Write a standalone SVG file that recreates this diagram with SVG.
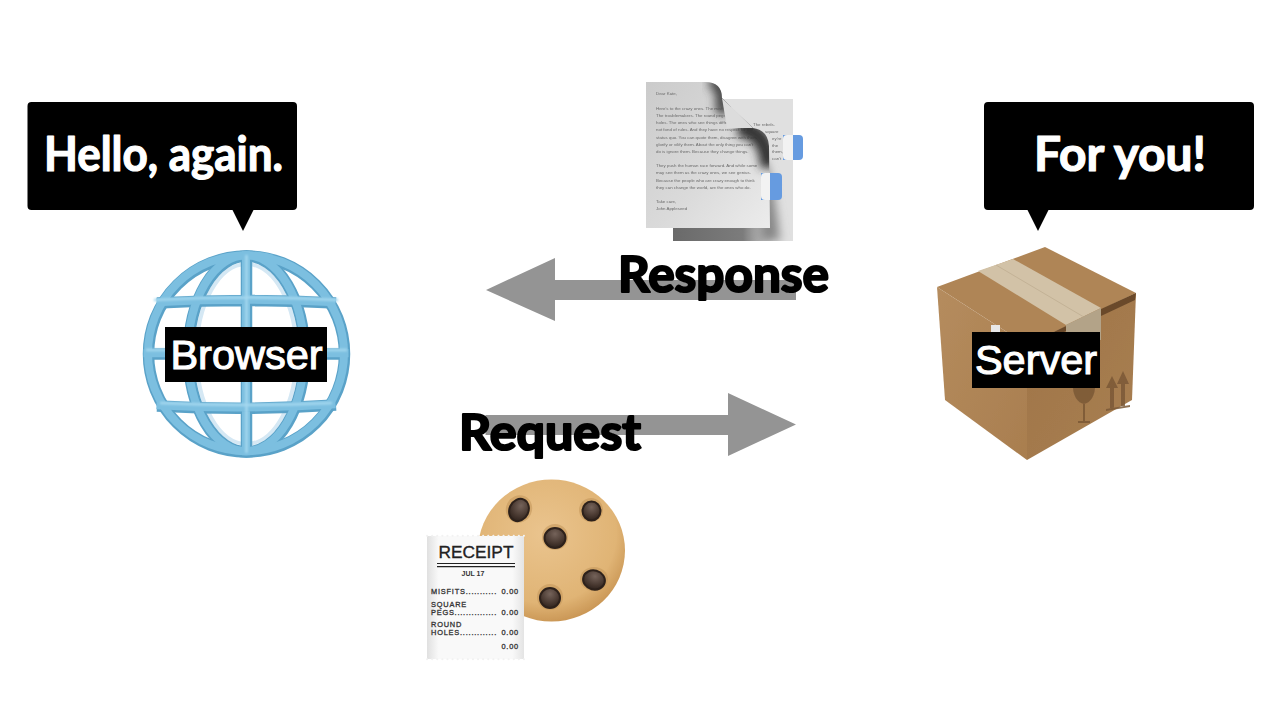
<svg xmlns="http://www.w3.org/2000/svg" width="1282" height="702" viewBox="0 0 1282 702">
<style>
.hand{font-family:"Lato","Noto Sans",sans-serif;font-weight:700;stroke-linejoin:round}
.say{font-size:47px;fill:#fff;stroke:#fff;stroke-width:1.200}
.tag{font-size:50px;fill:#000;stroke:#000;stroke-width:2.200}
.sans{font-family:"Liberation Sans",Arial,sans-serif}
.lbl{font-size:41.500px;fill:#fff;stroke:#fff;stroke-width:1.100;text-anchor:middle}
.doc{font-size:4.400px;fill:#6a6a6a}
.rc{font-size:7.400px;fill:#333;stroke:#333;stroke-width:.3;letter-spacing:.8px}
.b1{fill:none;stroke:#5aa2c8;stroke-width:11.500}
.b2{fill:none;stroke:#7cbfe0;stroke-width:8}
.b3{fill:none;stroke:#a5d8ef;stroke-width:2.500}
.chip{fill:url(#gc);stroke:#2d211b;stroke-width:2}
.hole{fill:#c4975c;opacity:.6}
.mark{fill:#7a5836;opacity:.85}
</style>
<defs>
<g id="wire">
<circle cx="246.500" cy="354" r="98"/>
<ellipse cx="246.500" cy="354" rx="58" ry="98"/>
<path d="M246.500 252V456M157 303Q246 298 336 303M144 354H349M157 406Q246 411 336 405"/>
</g>
<radialGradient id="gk" cx=".45" cy=".38" r=".68"><stop offset="0" stop-color="#eac48e"/><stop offset=".72" stop-color="#e0b475"/><stop offset="1" stop-color="#c28c4a"/></radialGradient>
<radialGradient id="gc" cx=".5" cy=".3" r=".8"><stop offset="0" stop-color="#75635a"/><stop offset=".6" stop-color="#46362e"/><stop offset="1" stop-color="#241a15"/></radialGradient>
<linearGradient id="gp" x1="0" y1="0" x2="1" y2="1"><stop offset="0" stop-color="#cbcbcb"/><stop offset=".55" stop-color="#dadada"/><stop offset="1" stop-color="#ececec"/></linearGradient>
<linearGradient id="gr" x1="0" y1="0" x2="1" y2="0"><stop offset="0" stop-color="#e0e0e0"/><stop offset=".12" stop-color="#f9f9f9"/><stop offset=".88" stop-color="#f9f9f9"/><stop offset="1" stop-color="#e4e4e4"/></linearGradient>
<linearGradient id="gl" x1="0" y1="0" x2="1" y2="1"><stop offset="0" stop-color="#b58c5e"/><stop offset="1" stop-color="#a97e4f"/></linearGradient>
<linearGradient id="gf" x1="0" y1="0" x2="1" y2="1"><stop offset="0" stop-color="#9f7447"/><stop offset="1" stop-color="#a87f52"/></linearGradient>
<linearGradient id="gs" x1="0" y1="0" x2="1" y2="0"><stop offset="0" stop-color="#6a6a6a"/><stop offset=".7" stop-color="#7c7c7c"/><stop offset="1" stop-color="#dddddd"/></linearGradient>
<filter id="s1" x="-60%" y="-60%" width="220%" height="220%"><feGaussianBlur stdDeviation="5"/></filter>
<filter id="s2" x="-10%" y="-10%" width="120%" height="120%"><feGaussianBlur stdDeviation=".45"/></filter>
<filter id="s3" x="-10%" y="-10%" width="120%" height="120%"><feGaussianBlur stdDeviation=".8"/></filter>
<clipPath id="pg"><path d="M646 82H705Q722 82 722 98L753 128Q768 130 769 146L770 228H646Z"/></clipPath>
<clipPath id="pb"><rect x="673" y="99" width="120" height="142"/></clipPath>
</defs>
<rect width="1282" height="702" fill="#fff"/>

<g id="connectors">
<path id="response-arrow" fill="#949494" d="M486 290L555 258V280H796V300H555V321Z"/>
<path id="request-arrow" fill="#949494" d="M485.500 415H728V393L796 424.500L728 456V435H485.500Z"/>
</g>

<g id="browser">
<ellipse cx="246.500" cy="354" rx="50" ry="90" fill="none" stroke="#d5e8f4" stroke-width="4" filter="url(#s2)"/>
<g filter="url(#s2)">
<use href="#wire" class="b1"/>
<use href="#wire" class="b2" transform="translate(-.5 -.8)"/>
</g>
<path d="M246.500 255V453M154 300Q246 295 338 300M146 350H347M160 403Q246 407 332 403" class="b3" filter="url(#s3)"/>
<rect x="165" y="327" width="162" height="55"/>
<text x="246.500" y="369" class="sans lbl">Browser</text>
</g>

<g id="server">
<g filter="url(#s2)">
<path d="M937 287L1045 247L1136 293L1027 345Z" fill="#af8556"/>
<path d="M937 287L1027 345V460L945 400Z" fill="url(#gl)"/>
<path d="M1027 345L1136 293L1132 400L1027 460Z" fill="url(#gf)"/>
<path d="M1101 309L1136 293L1135 300L1101 316ZM1027 345L1066 326V331L1027 351Z" fill="#6a4a2b"/>
<path d="M978 271L1013 259L1101 308L1066 325Z" fill="#d2c2a7"/>
<path d="M996 265L1083 316.500" stroke="#c3b296" stroke-width="1" fill="none"/>
<path d="M1066 325L1101 308V340H1066Z" fill="#b3a388"/>
<rect x="991" y="325" width="9" height="8" fill="#e8e8e8"/>
<path class="mark" d="M1073 383H1095C1096 396 1090 403 1084 404C1078 403 1072 396 1073 383ZM1083 404H1085V421H1090V423H1078V421H1083Z"/>
<path class="mark" d="M1112 376L1106 388H1110V408H1114V388H1118ZM1123 371L1117 384H1121V406H1125V384H1129ZM1106 409L1130 405V407L1106 411Z"/>
</g>
<rect x="972" y="332" width="128" height="56"/>
<text x="1036" y="374" class="sans lbl">Server</text>
</g>

<g id="browser-bubble">
<path d="M31.500 102H293A4 4 0 0 1 297 106V206A4 4 0 0 1 293 210H253.500L243 231L232.500 210H31.500A4 4 0 0 1 27.500 206V106A4 4 0 0 1 31.500 102Z"/>
<text x="44" y="171" class="hand say" textLength="239" lengthAdjust="spacingAndGlyphs">Hello, again.</text>
</g>
<g id="server-bubble">
<path d="M988 102H1250A4 4 0 0 1 1254 106V206A4 4 0 0 1 1250 210H1048.500L1038 231L1027.500 210H988A4 4 0 0 1 984 206V106A4 4 0 0 1 988 102Z"/>
<text x="1034" y="171" class="hand say" textLength="172" lengthAdjust="spacingAndGlyphs">For you!</text>
</g>

<g id="documents">
<rect x="673" y="99" width="120" height="142" fill="#e0e0e0"/>
<rect x="673" y="228" width="100" height="13" fill="url(#gs)"/>
<g clip-path="url(#pb)">
<path d="M766 160Q776 195 780 241H760V160Z" fill="#888" filter="url(#s1)"/>
</g>
<g class="sans doc" filter="url(#s2)">
<text x="753" y="126">The rebels.</text>
<text x="765" y="133">square</text>
<text x="772" y="140">ey're</text>
<text x="772" y="147">the</text>
<text x="772" y="153">them,</text>
<text x="772" y="160">can't</text>
</g>
<path d="M783 135H799Q803 135 803 139V156Q803 160 799 160H783Z" fill="#669be0"/>
<path d="M793 135H787Q783 135 783 139V156Q783 160 787 160H793Z" fill="#f2f2f2"/>
<path d="M646 82H705Q722 82 722 98L753 128Q768 130 769 146L770 228H646Z" fill="url(#gp)"/>
<g class="sans doc" filter="url(#s2)">
<text x="656" y="95">Dear Kate,</text>
<text x="656" y="110">Here's to the crazy ones. The misfits.</text>
<text x="656" y="117">The troublemakers. The round pegs in the</text>
<text x="656" y="124">holes. The ones who see things differently.</text>
<text x="656" y="131">not fond of rules. And they have no respect for the</text>
<text x="656" y="139">status quo. You can quote them, disagree with them,</text>
<text x="656" y="146">glorify or vilify them. About the only thing you can't</text>
<text x="656" y="153">do is ignore them. Because they change things.</text>
<text x="656" y="167">They push the human race forward. And while some</text>
<text x="656" y="174">may see them as the crazy ones, we see genius.</text>
<text x="656" y="182">Because the people who are crazy enough to think</text>
<text x="656" y="189">they can change the world, are the ones who do.</text>
<text x="656" y="203">Take care,</text>
<text x="656" y="210">John Appleseed</text>
</g>
<g clip-path="url(#pg)">
<path d="M710 80Q726 84 722 114" fill="none" stroke="#444" stroke-width="14" filter="url(#s1)"/>
<path d="M738 128Q768 130 769 168" fill="none" stroke="#333" stroke-width="18" filter="url(#s1)"/>
<path d="M722 98L753 128H727Z" fill="#dcdcdc" filter="url(#s2)"/>
</g>
<path d="M761 173H778Q782 173 782 177V196Q782 200 778 200H761Z" fill="#669be0"/>
<path d="M770 173H765Q761 173 761 177V196Q761 200 765 200H770Z" fill="#f2f2f2"/>
</g>

<g id="cookie-receipt">
<ellipse cx="551.500" cy="550.500" rx="73.500" ry="71" fill="url(#gk)" filter="url(#s2)"/>
<ellipse class="hole" cx="519" cy="509" rx="13" ry="14" transform="rotate(25 519 509)"/>
<ellipse class="hole" cx="591" cy="510" rx="12" ry="12"/>
<ellipse class="hole" cx="555" cy="537" rx="13" ry="13"/>
<ellipse class="hole" cx="594" cy="579" rx="14" ry="12"/>
<ellipse class="hole" cx="550" cy="597" rx="13" ry="13"/>
<ellipse class="chip" cx="519" cy="510" rx="9.500" ry="11.500" transform="rotate(25 519 510)"/>
<ellipse class="chip" cx="591.500" cy="511" rx="9" ry="9.500"/>
<ellipse class="chip" cx="555" cy="538" rx="10.500" ry="10"/>
<ellipse class="chip" cx="594" cy="580" rx="11" ry="9.500" transform="rotate(15 594 580)"/>
<ellipse class="chip" cx="550" cy="598" rx="10" ry="10"/>
<rect x="427" y="536" width="97" height="123" fill="url(#gr)"/>
<path d="M427 535.800H524M427 659.200H524" stroke="#f2f2f2" stroke-width="2" stroke-linecap="round" stroke-dasharray=".1 5"/>
<g class="sans">
<text x="476" y="558" font-size="17.300" fill="#222" stroke="#222" stroke-width=".35" text-anchor="middle">RECEIPT</text>
<path d="M437 563.500H515M437 566.700H515" stroke="#222" stroke-width="1.200"/>
<text x="473" y="576" font-size="7" font-weight="700" fill="#333" text-anchor="middle">JUL 17</text>
<text x="431" y="594" class="rc" textLength="66">MISFITS...........</text><text x="519" y="594" class="rc" text-anchor="end">0.00</text>
<text x="431" y="607" class="rc">SQUARE</text>
<text x="431" y="614.500" class="rc" textLength="66">PEGS...............</text><text x="519" y="614.500" class="rc" text-anchor="end">0.00</text>
<text x="431" y="627" class="rc">ROUND</text>
<text x="431" y="634.500" class="rc" textLength="66">HOLES.............</text><text x="519" y="634.500" class="rc" text-anchor="end">0.00</text>
<text x="519" y="649" class="rc" text-anchor="end">0.00</text>
</g>
</g>

<text id="response-label" x="618" y="292" class="hand tag" textLength="211" lengthAdjust="spacingAndGlyphs">Response</text>
<text id="request-label" x="459" y="450" class="hand tag" textLength="182" lengthAdjust="spacingAndGlyphs">Request</text>
</svg>
